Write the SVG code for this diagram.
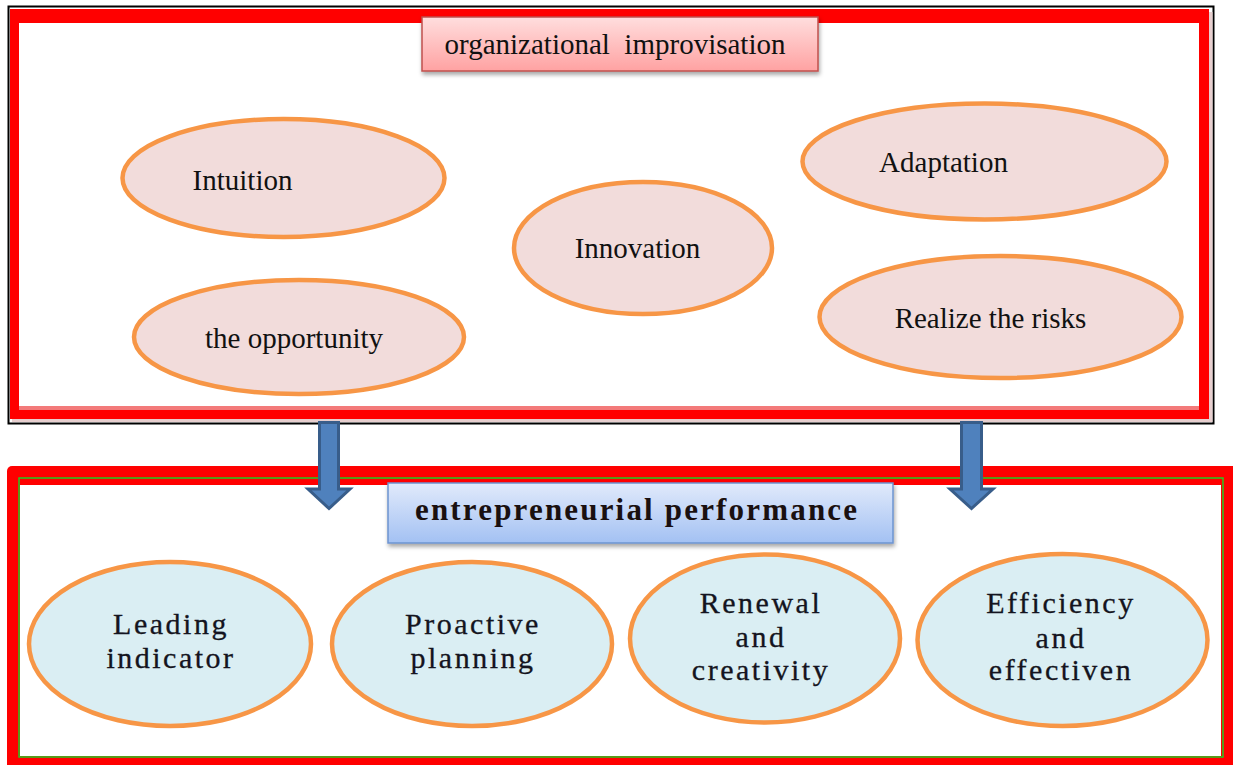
<svg xmlns="http://www.w3.org/2000/svg" width="1233" height="765" viewBox="0 0 1233 765">
<style>
.top-el{fill:#F2DCDB;stroke:#F79646;stroke-width:4.5}
.bot-el{fill:#DAEEF3;stroke:#F79646;stroke-width:4.5}
.t1{font-family:"Liberation Serif","Times New Roman",serif;font-size:29px;fill:#111;text-anchor:middle}
.t2{font-family:"Liberation Serif","Times New Roman",serif;font-size:30px;fill:#141420;text-anchor:middle;letter-spacing:2.5px;stroke:#141420;stroke-width:0.3}
.arrow{fill:#4F81BD;stroke:#385D8A;stroke-width:3;stroke-linejoin:miter}
</style>
<defs>
<linearGradient id="gPink" x1="0" y1="0" x2="0" y2="1">
<stop offset="0" stop-color="#FFDEDE"/><stop offset="1" stop-color="#FFA2A2"/>
</linearGradient>
<linearGradient id="gBlue" x1="0" y1="0" x2="0" y2="1">
<stop offset="0" stop-color="#E1EAFB"/><stop offset="1" stop-color="#A3C1F3"/>
</linearGradient>
<filter id="shadow" x="-10%" y="-20%" width="120%" height="160%">
<feDropShadow dx="1" dy="3" stdDeviation="2" flood-color="#000" flood-opacity="0.35"/>
</filter>
</defs>
<rect width="1233" height="765" fill="#fff"/>

<g id="top-frame">
<rect x="8.5" y="6.5" width="1205" height="417" fill="none" stroke="#000" stroke-width="2"/>
<rect x="1209" y="12" width="3.5" height="410" fill="#E8CFCF"/>
<rect x="12" y="419" width="1200" height="3" fill="#E8CFCF"/>
<path d="M10 9H1209V419H10Z M19 23V406H1199V23Z" fill="#FF0000" fill-rule="evenodd"/>
<rect x="19" y="406" width="1180" height="4" fill="#F37A7A"/>
</g>

<g id="bottom-frame">
<rect x="7" y="466" width="1240" height="310" rx="5" fill="#FF0000"/>
<rect x="19" y="478" width="1204" height="279" fill="#FF0000" stroke="#22CC22" stroke-width="1.5"/>
<rect x="20" y="485" width="1201" height="271" fill="#fff"/>
</g>

<g id="title-top">
<rect x="422" y="17" width="396" height="54" fill="url(#gPink)" stroke="#C0504D" stroke-width="1.5" filter="url(#shadow)"/>
<text class="t1" x="615" y="54" style="white-space:pre">organizational  improvisation</text>
</g>

<g id="intuition"><ellipse class="top-el" cx="283.5" cy="178" rx="161" ry="59"/><text class="t1" x="242.5" y="190">Intuition</text></g>
<g id="innovation"><ellipse class="top-el" cx="643" cy="248" rx="129" ry="66"/><text class="t1" x="637.5" y="258">Innovation</text></g>
<g id="adaptation"><ellipse class="top-el" cx="984.5" cy="161.5" rx="182" ry="58"/><text class="t1" x="943.5" y="172">Adaptation</text></g>
<g id="opportunity"><ellipse class="top-el" cx="299" cy="337" rx="165" ry="57"/><text class="t1" x="294" y="348">the opportunity</text></g>
<g id="risks"><ellipse class="top-el" cx="1000.5" cy="317" rx="181" ry="61"/><text class="t1" x="990.5" y="328">Realize the risks</text></g>

<g id="title-bottom">
<rect x="388" y="483" width="505" height="60" fill="url(#gBlue)" stroke="#6C94D0" stroke-width="1.5" filter="url(#shadow)"/>
<text x="415" y="520" textLength="442" lengthAdjust="spacing" style="font-family:'Liberation Serif','Times New Roman',serif;font-size:31px;font-weight:bold;fill:#1a1010">entrepreneurial performance</text>
</g>

<g id="leading"><ellipse class="bot-el" cx="170" cy="644" rx="141" ry="82"/><text class="t2" x="171" y="634">Leading</text><text class="t2" x="171" y="668">indicator</text></g>
<g id="proactive"><ellipse class="bot-el" cx="472" cy="644" rx="140" ry="82"/><text class="t2" x="473" y="634">Proactive</text><text class="t2" x="473" y="668">planning</text></g>
<g id="renewal"><ellipse class="bot-el" cx="765" cy="638.5" rx="135" ry="84"/><text class="t2" x="761" y="613">Renewal</text><text class="t2" x="761" y="647">and</text><text class="t2" x="761" y="680">creativity</text></g>
<g id="efficiency"><ellipse class="bot-el" cx="1062.5" cy="640" rx="145" ry="86"/><text class="t2" x="1061" y="613">Efficiency</text><text class="t2" x="1061" y="648">and</text><text class="t2" x="1061" y="680">effectiven</text></g>

<g id="connectors">
<polygon class="arrow" points="319.5,422.5 338.5,422.5 338.5,489 350,489 329,508.5 308,489 319.5,489"/>
<polygon class="arrow" points="961.5,422.5 981.5,422.5 981.5,489 993,489 971.5,508.5 950,489 961.5,489"/>
</g>
</svg>
